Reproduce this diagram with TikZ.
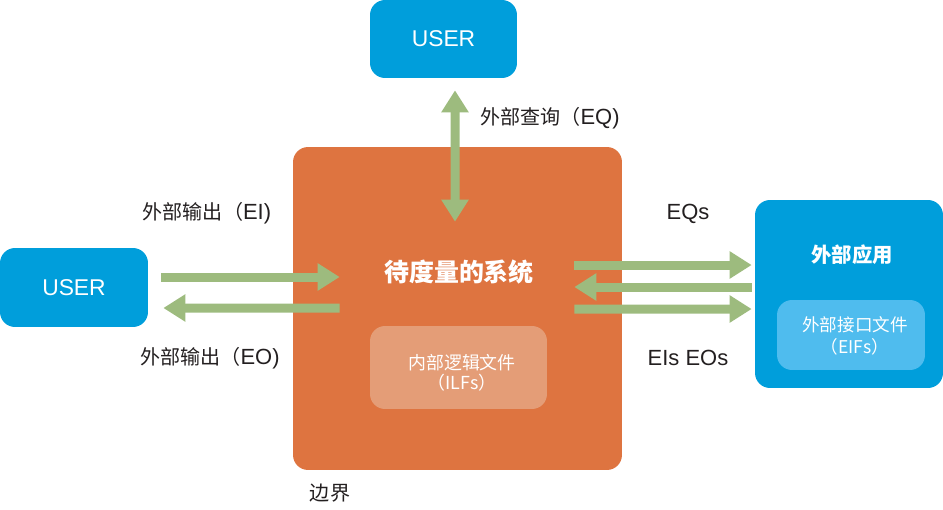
\documentclass[tikz,border=0pt]{standalone}
\usepackage{fontspec}
\setmainfont{Liberation Sans}
\newfontfamily\cjk{Noto Sans CJK SC}
\usetikzlibrary{calc,arrows.meta}
\definecolor{userblue}{RGB}{0,158,219}
\definecolor{sysorange}{RGB}{222,116,64}
\definecolor{ilfpink}{RGB}{228,157,119}
\definecolor{eiflight}{RGB}{79,188,238}
\definecolor{flowgreen}{RGB}{157,187,126}
\definecolor{labelgray}{RGB}{35,31,32}
\newcommand{\zh}[1]{{\cjk\fontsize{11.4}{14}\selectfont #1}}
\tikzset{
	flowtip/.tip={Triangle[width=0.52cm, length=0.44cm]},
	userbox/.style={fill=userblue, rounded corners=0.3cm, text=white, inner sep=0pt, font=\fontsize{13}{15}\selectfont},
	bigbox/.style={rounded corners=0.3cm, inner sep=0pt},
	innerbox/.style={rounded corners=0.3cm, inner sep=0pt},
	innertext/.style={text=white, align=center, inner sep=0pt},
	boxtitle/.style={text=white, inner sep=0pt},
	flow/.style={draw=flowgreen, line width=0.18cm},
	flowlabel/.style={text=labelgray, font=\fontsize{12.5}{15}\selectfont}
}
\begin{document}
\begin{tikzpicture}[x=0.02cm, y=-0.02cm]
			%%%%% START %%%%%
			
			\useasboundingbox (0, 0) rectangle (943, 510);
			
			\node[userbox, minimum width=2.94cm, minimum height=1.56cm] (userT) at (443.5, 39) {USER};
			\node[userbox, minimum width=2.96cm, minimum height=1.58cm] (userL) at (74, 287.5) {USER};
			
			\node[bigbox, fill=sysorange, minimum width=6.58cm, minimum height=6.46cm] (sys) at (457.5, 308.5) {};
			\node[boxtitle, font=\cjk\bfseries\fontsize{14.2}{17}\selectfont] (systitle) at (459, 272) {待度量的系统};
			\node[innerbox, fill=ilfpink, minimum width=3.54cm, minimum height=1.66cm] (ilf) at (458.5, 367.5) {};
			\node[innertext, font=\cjk\fontsize{10.2}{11.5}\selectfont] (ilftext) at (462, 373) {内部逻辑文件\\（ILFs）};
			
			\node[bigbox, fill=userblue, minimum width=3.76cm, minimum height=3.76cm] (app) at (849, 294) {};
			\node[boxtitle, font=\cjk\bfseries\fontsize{11.6}{14}\selectfont] (apptitle) at (852, 255) {外部应用};
			\node[innerbox, fill=eiflight, minimum width=2.96cm, minimum height=1.4cm] (eif) at (851, 335) {};
			\node[innertext, font=\cjk\fontsize{10}{12.5}\selectfont] (eiftext) at (855, 336) {外部接口文件\\（EIFs）};
			
			\draw[flow, -flowtip] ($(userL.east)+(13, -10.5)$) -- ($(sys.west)+(47, -31.5)$);
			\draw[flow, -flowtip] ($(sys.west)+(47, -0.5)$) -- ($(userL.east)+(15, 20.5)$);
			
			\draw[flow, flowtip-flowtip] ($(userT.south)+(11.5, 12)$) -- ($(sys.north)+(-2.5, 75)$);
			
			\draw[flow, -flowtip] ($(sys.east)+(-48, -43.5)$) -- ($(app.west)+(-3, -29)$);
			\draw[flow, -flowtip] ($(app.west)+(-3, -7)$) -- ($(sys.east)+(-48, -21.5)$);
			\draw[flow, -flowtip] ($(sys.east)+(-48, 0.5)$) -- ($(app.west)+(-3, 15)$);
			
			\node[flowlabel] (ei) at (207, 213) {\zh{外部输出（}EI)};
			\node[flowlabel] (eo) at (210, 358) {\zh{外部输出（}EO)};
			\node[flowlabel] (eq) at (550, 118) {\zh{外部查询（}EQ)};
			\node[flowlabel] (eqs) at (688, 214) {EQs};
			\node[flowlabel] (eiseo) at (688, 358) {EIs EOs};
			\node[flowlabel] (boundary) at (330, 493) {\zh{边界}};
			
			%%%%% END %%%%%
\end{tikzpicture}
\end{document}
